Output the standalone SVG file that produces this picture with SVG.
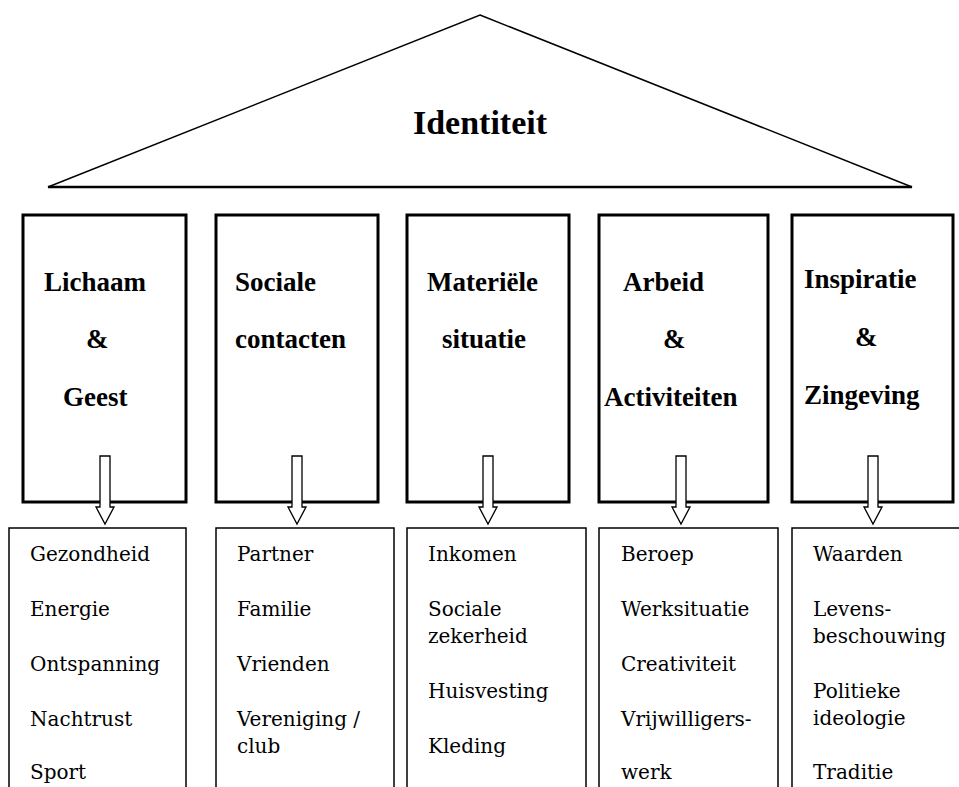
<svg xmlns="http://www.w3.org/2000/svg" width="959" height="787" viewBox="0 0 959 787">
<style>
.pillar{fill:#fff;stroke:#000;stroke-width:3}
.list{fill:#fff;stroke:#000;stroke-width:1.5}
.h{font-family:"Liberation Serif",serif;font-weight:bold;font-size:27px;fill:#000}
.t{font-family:"DejaVu Serif",serif;font-size:20px;fill:#000}
.arrow{fill:#fff;stroke:#000;stroke-width:1.3;stroke-linejoin:miter}
</style>
<defs>
<path id="arr" d="M-5,0 H5 V51 H9 L0,68 L-9,51 H-5 Z"/>
</defs>
<rect width="959" height="787" fill="#fff"/>
<g id="identiteit">
<polygon points="480,15 912,187 48,187" fill="#fff" stroke="#000" stroke-width="1.5" stroke-linejoin="miter"/>
<line x1="48" y1="187" x2="912" y2="187" stroke="#000" stroke-width="2.5"/>
<text class="h" x="480" y="134" text-anchor="middle" style="font-size:34px">Identiteit</text>
</g>
<g id="pillar1">
<rect class="pillar" x="23" y="215" width="163" height="287"/>
<text class="h" x="44" y="291">Lichaam</text>
<text class="h" x="86" y="348">&amp;</text>
<text class="h" x="63" y="406">Geest</text>
</g>
<g id="pillar2">
<rect class="pillar" x="216" y="215" width="162" height="287"/>
<text class="h" x="235" y="291">Sociale</text>
<text class="h" x="235" y="348">contacten</text>
</g>
<g id="pillar3">
<rect class="pillar" x="407" y="215" width="162" height="287"/>
<text class="h" x="427" y="291">Materiële</text>
<text class="h" x="442" y="348">situatie</text>
</g>
<g id="pillar4">
<rect class="pillar" x="599" y="215" width="169" height="287"/>
<text class="h" x="623" y="291">Arbeid</text>
<text class="h" x="663" y="348">&amp;</text>
<text class="h" x="604" y="406">Activiteiten</text>
</g>
<g id="pillar5">
<rect class="pillar" x="792" y="215" width="161" height="287"/>
<text class="h" x="804" y="288">Inspiratie</text>
<text class="h" x="855" y="346">&amp;</text>
<text class="h" x="804" y="404">Zingeving</text>
</g>
<g id="list1">
<path class="list" d="M9,790 V528 H186 V790"/>
<text class="t" x="30" y="561">Gezondheid</text>
<text class="t" x="30" y="616">Energie</text>
<text class="t" x="30" y="671">Ontspanning</text>
<text class="t" x="30" y="726">Nachtrust</text>
<text class="t" x="30" y="779">Sport</text>
</g>
<g id="list2">
<path class="list" d="M216,790 V528 H394 V790"/>
<text class="t" x="237" y="561">Partner</text>
<text class="t" x="237" y="616">Familie</text>
<text class="t" x="237" y="671">Vrienden</text>
<text class="t" x="237" y="726">Vereniging /</text>
<text class="t" x="237" y="753">club</text>
</g>
<g id="list3">
<path class="list" d="M407,790 V528 H586 V790"/>
<text class="t" x="428" y="561">Inkomen</text>
<text class="t" x="428" y="616">Sociale</text>
<text class="t" x="428" y="643">zekerheid</text>
<text class="t" x="428" y="698">Huisvesting</text>
<text class="t" x="428" y="753">Kleding</text>
</g>
<g id="list4">
<path class="list" d="M599,790 V528 H778 V790"/>
<text class="t" x="621" y="561">Beroep</text>
<text class="t" x="621" y="616">Werksituatie</text>
<text class="t" x="621" y="671">Creativiteit</text>
<text class="t" x="621" y="726">Vrijwilligers-</text>
<text class="t" x="621" y="779">werk</text>
</g>
<g id="list5">
<path class="list" d="M792,790 V528 H970"/>
<text class="t" x="813" y="561">Waarden</text>
<text class="t" x="813" y="616">Levens-</text>
<text class="t" x="813" y="643">beschouwing</text>
<text class="t" x="813" y="698">Politieke</text>
<text class="t" x="813" y="725">ideologie</text>
<text class="t" x="813" y="779">Traditie</text>
</g>
<g id="connectors">
<use href="#arr" class="arrow" x="105" y="456"/>
<use href="#arr" class="arrow" x="297" y="456"/>
<use href="#arr" class="arrow" x="488" y="456"/>
<use href="#arr" class="arrow" x="681" y="456"/>
<use href="#arr" class="arrow" x="873" y="456"/>
</g>
</svg>
